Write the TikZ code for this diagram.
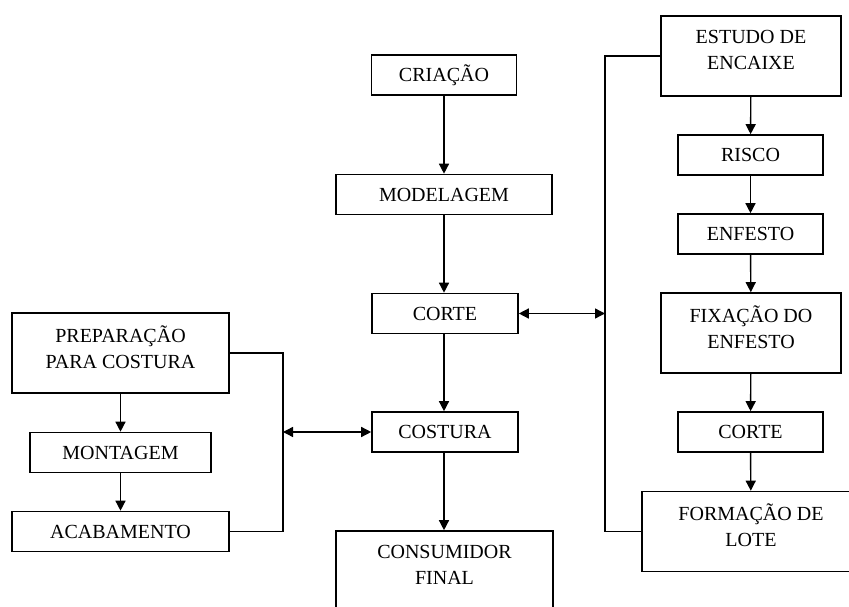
\documentclass[tikz,border=0pt]{standalone}
\usepackage{fontspec}
\setmainfont{Liberation Serif}
\usetikzlibrary{arrows.meta}
\newcommand{\boxfont}{\fontsize{20}{26}\selectfont}

\tikzset{
  box/.style={draw, line width=1.6pt, minimum height=40pt, inner sep=0pt, font=\boxfont},
  tallbox/.style={box, minimum height=80pt},
  boxtext/.style={align=center, inner sep=0pt, font=\boxfont},
  flow/.style={line width=1.4pt, -{Triangle[length=10pt,width=10pt]}},
  both/.style={line width=1.4pt, {Triangle[length=10pt,width=10pt]}-{Triangle[length=10pt,width=10pt]}},
  link/.style={line width=1.4pt},
}

\begin{document}
\begin{tikzpicture}[x=1pt, y=-1pt]
  \useasboundingbox (0,0) rectangle (849,607);
  \clip (0,0) rectangle (849,607);

  % main column
  \node[box, minimum width=145pt] (criacao) at (444,75) {CRIAÇÃO};
  \node[box, minimum width=216pt] (modelagem) at (444,194.5) {MODELAGEM};
  \node[box, minimum width=146pt] (corte) at (445,313.5) {CORTE};
  \node[box, minimum width=146pt] (costura) at (445,432) {COSTURA};
  \node[tallbox, minimum width=217pt] (consumidor) at (444.5,571) {};
  \node[boxtext] (consumidor-t) at ([yshift=6pt]consumidor.center) {CONSUMIDOR\\FINAL};

  % right column (cutting)
  \node[tallbox, minimum width=180pt] (estudo) at (751,56) {};
  \node[boxtext] (estudo-t) at ([yshift=6pt]estudo.center) {ESTUDO DE\\ENCAIXE};
  \node[box, minimum width=145pt] (risco) at (750.5,155) {RISCO};
  \node[box, minimum width=145pt] (enfesto) at (750.5,234) {ENFESTO};
  \node[tallbox, minimum width=180pt] (fixacao) at (751,333) {};
  \node[boxtext] (fixacao-t) at ([yshift=6pt]fixacao.center) {FIXAÇÃO DO\\ENFESTO};
  \node[box, minimum width=145pt] (corte2) at (750.5,432) {CORTE};
  \node[tallbox, minimum width=218pt] (lote) at (751,531.5) {};
  \node[boxtext] (lote-t) at ([yshift=6pt]lote.center) {FORMAÇÃO DE\\LOTE};

  % left column (sewing)
  \node[tallbox, minimum width=217pt] (preparacao) at (120.5,353) {};
  \node[boxtext] (preparacao-t) at ([yshift=6pt]preparacao.center) {PREPARAÇÃO\\PARA COSTURA};
  \node[box, minimum width=181pt] (montagem) at (120.5,452.5) {MONTAGEM};
  \node[box, minimum width=217pt] (acabamento) at (120.5,531.5) {ACABAMENTO};

  % vertical flow
  \draw[flow] (criacao) -- (modelagem);
  \draw[flow] (modelagem.south -| criacao) -- (corte.north -| criacao);
  \draw[flow] (corte.south -| criacao) -- (costura.north -| criacao);
  \draw[flow] (costura.south -| criacao) -- (consumidor.north -| criacao);

  \draw[flow] (estudo) -- (risco);
  \draw[flow] (risco) -- (enfesto);
  \draw[flow] (enfesto) -- (fixacao);
  \draw[flow] (fixacao) -- (corte2);
  \draw[flow] (corte2) -- (lote);

  \draw[flow] (preparacao) -- (montagem);
  \draw[flow] (montagem) -- (acabamento);

  % brackets
  \coordinate (rbar) at (605,313.5);
  \coordinate (lbar) at (283,432);
  \draw[link] (estudo.west) -| (rbar) |- (lote.west);
  \draw[link] (preparacao.east) -| (lbar) |- (acabamento.east);
  \draw[both] (corte.east) -- (rbar);
  \draw[both] (lbar) -- (costura.west);
\end{tikzpicture}
\end{document}
